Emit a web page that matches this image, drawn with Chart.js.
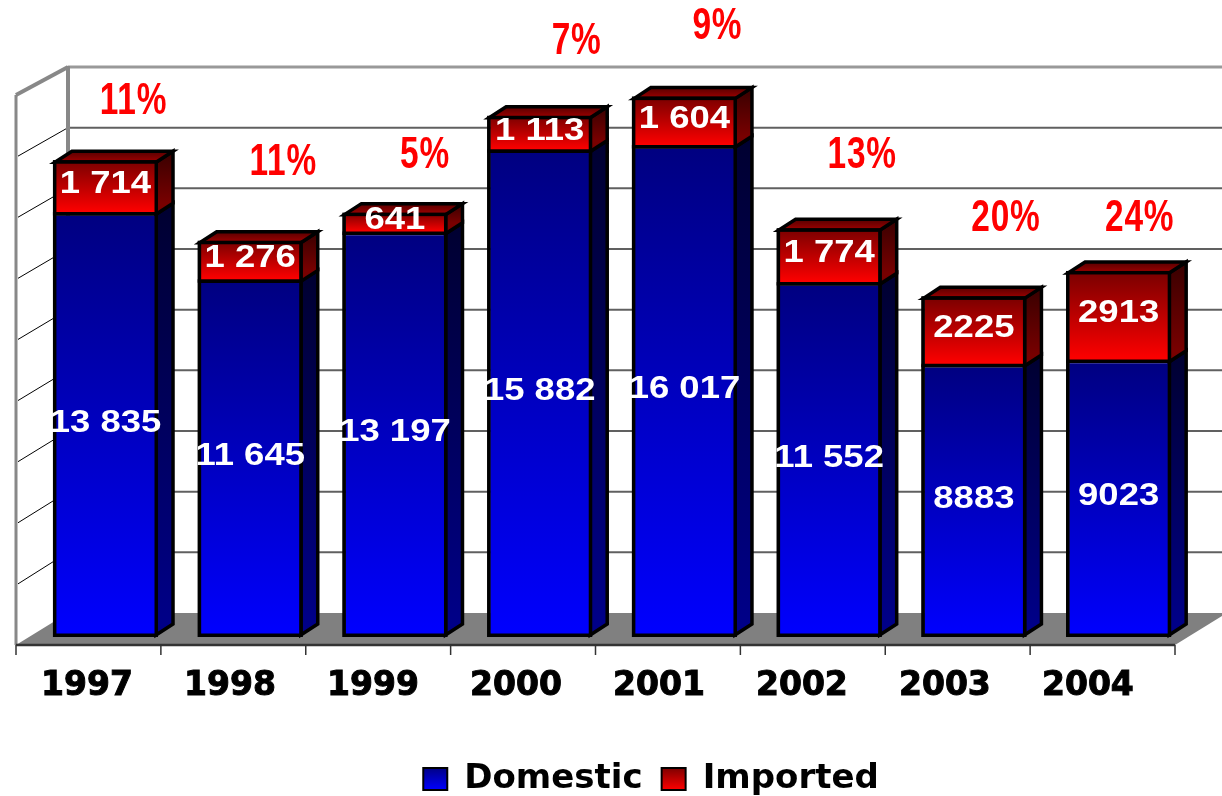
<!DOCTYPE html>
<html><head><meta charset="utf-8">
<style>html,body{margin:0;padding:0;background:#fff}canvas{display:block}</style>
<script src="https://cdn.jsdelivr.net/npm/chart.js@4"></script>
</head><body><canvas id="c" width="1222" height="796"></canvas>
<script>
const categories = ['1997','1998','1999','2000','2001','2002','2003','2004'];
const domestic = [13835,11645,13197,15882,16017,11552,8883,9023];
const imported = [1714,1276,641,1113,1604,1774,2225,2913];
const domesticLabels = ['13 835','11 645','13 197','15 882','16 017','11 552','8883','9023'];
const importedLabels = ['1 714','1 276','641','1 113','1 604','1 774','2225','2913'];
const shareLabels = ['11%','11%','5%','7%','9%','13%','20%','24%'];
const yTickStep = 2000, yMax = 18000;

// layout only
const shareOffsetX = [28,33,30,37,33,33,32,21];
const shareOffsetY = [-58,-78,-57,-74,-70,-72,-77,-52];
const FRAME = {l:16,r:1175,front:645,top:95,backL:68,backR:1227,backB:613,backT:67};
const DEPTH = {x:17,y:-11};
const LEGEND_SHIFT=10;

function grad(ctx,y0,y1,c0,c1){const g=ctx.createLinearGradient(0,y0,0,y1);g.addColorStop(0,c0);g.addColorStop(1,c1);return g;}
function poly(ctx,pts,fill,stroke,w){ctx.beginPath();pts.forEach((p,i)=>i?ctx.lineTo(p[0],p[1]):ctx.moveTo(p[0],p[1]));ctx.closePath();
  if(fill){ctx.fillStyle=fill;ctx.fill();} if(stroke){ctx.strokeStyle=stroke;ctx.lineWidth=w;ctx.lineJoin='miter';ctx.stroke();}}
function line(ctx,x0,y0,x1,y1,c,w){ctx.beginPath();ctx.moveTo(x0,y0);ctx.lineTo(x1,y1);ctx.strokeStyle=c;ctx.lineWidth=w;ctx.stroke();}
function text(ctx,t,x,y,font,color,sx,ls){ctx.save();ctx.translate(x,y);ctx.scale(sx,1);ctx.font=font;if(ls)ctx.letterSpacing=ls;ctx.fillStyle=color;ctx.textAlign='center';ctx.textBaseline='middle';ctx.fillText(t,0,0);ctx.restore();}

const scene = {
  id:'scene',
  afterLayout(chart){
    if(chart.legend){chart.legend.left+=39;chart.legend.right+=39;chart.legend.top+=LEGEND_SHIFT;chart.legend.bottom+=LEGEND_SHIFT;}
  },
  beforeDraw(chart){
    const ctx=chart.ctx,F=FRAME,y=chart.scales.y,x=chart.scales.x;
    ctx.save();
    poly(ctx,[[F.l,F.front],[F.r,F.front],[F.backR,F.backB],[F.backL,F.backB]],'#808080');
    const ticks=y.ticks.map(t=>t.value);
    ticks.forEach(v=>{
      if(v===0||v===yMax) return;
      const f=v/yMax, wy=F.backB-(F.backB-F.backT)*f, fy=F.front-(F.front-F.top)*f;
      line(ctx,F.backL,wy,F.backR,wy,'#606060',2);
      line(ctx,F.backL,wy,F.l+2,fy,'#000',1);
    });
    line(ctx,F.backL,F.backT,F.backR,F.backT,'#999',3);
    line(ctx,F.backL,F.backT-1,F.backL,F.backB,'#888',4);
    line(ctx,F.l,F.top,F.backL,F.backT,'#888',4);
    line(ctx,F.l,F.top,F.l,F.front,'#888',3);
    line(ctx,F.l,F.front,F.r,F.front,'#333',2.5);
    const step=(F.r-F.l)/categories.length;
    for(let i=0;i<=categories.length;i++) line(ctx,F.l+i*step,F.front,F.l+i*step,F.front+10,'#333',1.5);
    ctx.restore();
    x.getLabelItems().forEach((it,i)=>{it.options.translation[0]=x.getPixelForTick(i)-18.5-i*1.75;});
  },
  beforeDatasetsDraw(chart){
    const ctx=chart.ctx,D=DEPTH; ctx.save();
    const m0=chart.getDatasetMeta(0).data,m1=chart.getDatasetMeta(1).data;
    m0.forEach((b,i)=>{
      const t=m1[i],r=b.x+b.width/2-2,l=b.x-b.width/2+2;
      const yb=b.base-2,ym=b.y+1.5,yt=t.y+2;
      poly(ctx,[[r,ym],[r+D.x,ym+D.y],[r+D.x,yb+D.y],[r,yb]],grad(ctx,ym+D.y,yb+D.y,'#000030','#000088'),'#000',3.5);
      poly(ctx,[[r,yt],[r+D.x,yt+D.y],[r+D.x,ym+D.y],[r,ym]],grad(ctx,yt+D.y,ym+D.y,'#380000','#780000'),'#000',3.5);
      poly(ctx,[[l,yt],[l+D.x,yt+D.y],[r+D.x,yt+D.y],[r,yt]],grad(ctx,yt+D.y,yt,'#580000','#a00000'),'#000',3.5);
    });
    ctx.restore();
  },
  afterDatasetsDraw(chart){
    const ctx=chart.ctx;
    const m0=chart.getDatasetMeta(0).data,m1=chart.getDatasetMeta(1).data;
    const F='bold 32px "Liberation Sans"';
    categories.forEach((c,i)=>{
      const b=m0[i],t=m1[i],l=b.x-b.width/2,w=b.width;
      ctx.save();ctx.strokeStyle='#000';ctx.lineWidth=3.5;ctx.lineJoin='miter';
      ctx.strokeRect(l+1.75,t.y+1.75,w-3.5,b.base-t.y-3.5);
      line(ctx,l,b.y+1,l+w,b.y+1,'#000',3.5);
      ctx.restore();
      text(ctx,domesticLabels[i],b.x,(b.y+b.base)/2-2,F,'#fff',1.14);
      text(ctx,importedLabels[i],t.x,(t.y+t.base)/2-2,F,'#fff',1.14);
      text(ctx,shareLabels[i],t.x+shareOffsetX[i],t.y+shareOffsetY[i],'bold 44px "Liberation Sans"','#ff0000',0.76,'1px');
    });
  }
};
const canvas=document.getElementById('c'), c2=canvas.getContext('2d');
function barFill(ds,c0,c1){return function(c){
  if(c.type!=='data') return c1;
  const y=c.chart.scales.y,i=c.dataIndex;
  const lo=ds===0?0:domestic[i],hi=ds===0?domestic[i]:domestic[i]+imported[i];
  return grad(c.chart.ctx,y.getPixelForValue(hi),y.getPixelForValue(lo),c0,c1);
};}
new Chart(canvas,{
  type:'bar',
  data:{labels:categories,datasets:[
    {label:'Domestic',data:domestic,backgroundColor:barFill(0,'#000080','#0000ff'),borderColor:'#000',borderWidth:3,inflateAmount:0,borderSkipped:false,categoryPercentage:1,barPercentage:0.726},
    {label:'Imported',data:imported,backgroundColor:barFill(1,'#780000','#ff0000'),borderColor:'#000',borderWidth:{top:3,left:3,right:3,bottom:0},inflateAmount:0,borderSkipped:false,categoryPercentage:1,barPercentage:0.726}
  ]},
  plugins:[scene],
  options:{
    responsive:false,animation:false,events:[],
    layout:{padding:{left:33.1,right:31,top:85,bottom:0}},
    scales:{
      x:{stacked:true,grid:{display:false},border:{display:false},afterFit(s){s.height=96;},
        ticks:{color:'#000',padding:22,maxRotation:0,autoSkip:false,textStrokeColor:'#000',textStrokeWidth:1,font:{family:'"DejaVu Sans"',weight:'bold',size:33}}},
      y:{stacked:true,display:false,min:0,max:yMax,ticks:{stepSize:yTickStep}}
    },
    plugins:{
      tooltip:{enabled:false},title:{display:false},
      legend:{display:true,position:'bottom',
        labels:{color:'#000',boxWidth:24,boxHeight:22,padding:19,font:{family:'"DejaVu Sans"',weight:'bold',size:34},
          generateLabels(){return [
            {text:'Domestic',fillStyle:grad(c2,767,790,'#000080','#0000ff'),strokeStyle:'#000',lineWidth:2,datasetIndex:0},
            {text:'Imported',fillStyle:grad(c2,767,790,'#780000','#ff0000'),strokeStyle:'#000',lineWidth:2,datasetIndex:1}];}}}
    }
  }
});
</script></body></html>
